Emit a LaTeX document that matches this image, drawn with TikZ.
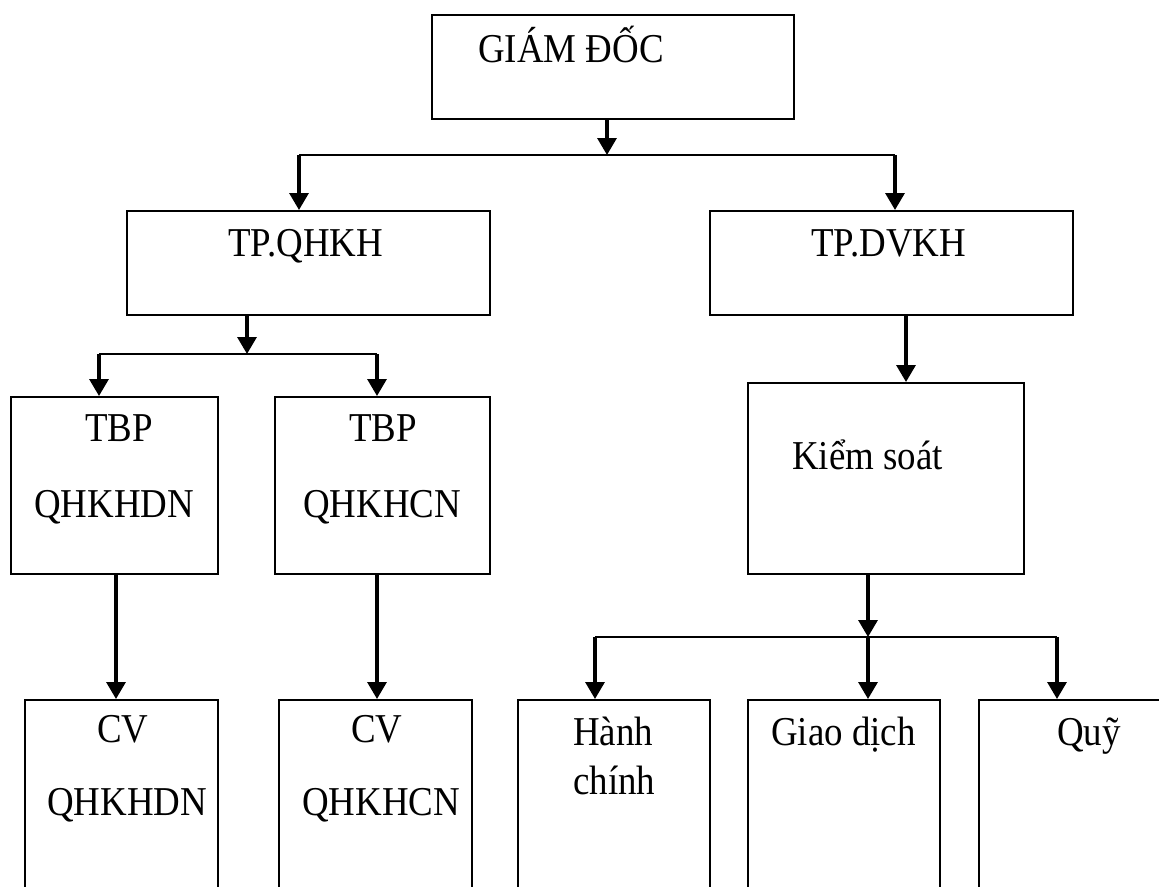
\documentclass[tikz,border=0pt]{standalone}
\usepackage{fontspec}
\setmainfont[FakeStretch=0.9]{Liberation Serif}
\usetikzlibrary{arrows.meta}
\begin{document}
\begin{tikzpicture}[x=1pt,y=-1pt,
  box/.style={draw=black, line width=1.5pt, rectangle, inner sep=0pt, anchor=north west},
  lbl/.style={anchor=base west, inner sep=0pt, font=\fontsize{41}{48}\selectfont},
  arr/.style={line width=3.3pt, -{Triangle[width=19pt,length=17pt]}},
  branch/.style={line width=2pt}]
\useasboundingbox (0,0) rectangle (1159,886);
\clip (0,0) rectangle (1159,886);
% boxes
\node[box, minimum width=362pt, minimum height=104pt] (gd) at (431,14) {};
\node[box, minimum width=363pt, minimum height=104pt] (tp1) at (126,210) {};
\node[box, minimum width=363pt, minimum height=104pt] (tp2) at (709,210) {};
\node[box, minimum width=207pt, minimum height=177pt] (tbp1) at (10,396) {};
\node[box, minimum width=215pt, minimum height=177pt] (tbp2) at (274,396) {};
\node[box, minimum width=276pt, minimum height=191pt] (ks) at (747,382) {};
\node[box, minimum width=193pt, minimum height=220pt] (cv1) at (24,699) {};
\node[box, minimum width=193pt, minimum height=220pt] (cv2) at (278,699) {};
\node[box, minimum width=192pt, minimum height=220pt] (hc) at (517,699) {};
\node[box, minimum width=192pt, minimum height=220pt] (gdch) at (747,699) {};
\node[box, minimum width=192pt, minimum height=220pt] (quy) at (978,699) {};
% labels
\node[lbl] (tgd) at (478,62) {GIÁM ĐỐC};
\node[lbl] (ttp1) at (228,256) {TP.QHKH};
\node[lbl] (ttp2) at (811,256) {TP.DVKH};
\node[lbl] (ttbp1a) at (85,441) {TBP};
\node[lbl] (ttbp1b) at (34,517) {QHKHDN};
\node[lbl] (ttbp2a) at (349,441) {TBP};
\node[lbl] (ttbp2b) at (303,517) {QHKHCN};
\node[lbl] (tks) at (792,469) {Kiểm soát};
\node[lbl] (tcv1a) at (97,742) {CV};
\node[lbl] (tcv1b) at (47,815) {QHKHDN};
\node[lbl] (tcv2a) at (351,742) {CV};
\node[lbl] (tcv2b) at (302,815) {QHKHCN};
\node[lbl] (thca) at (573,745) {Hành};
\node[lbl] (thcb) at (573,794) {chính};
\node[lbl] (tgdch) at (771,745) {Giao dịch};
\node[lbl] (tquy) at (1057,745) {Quỹ};
% junction coordinates
\coordinate (j1) at (607,155);
\coordinate (l1) at (299,155);
\coordinate (r1) at (895,155);
\coordinate (j2) at (247,354);
\coordinate (l2) at (99,354);
\coordinate (r2) at (377,354);
\coordinate (j3) at (868,637);
\coordinate (l3) at (595,637);
\coordinate (r3) at (1057,637);
\coordinate (c1) at (116,0);
\coordinate (c2) at (377,0);
\coordinate (c3) at (906,0);
% connectors
\draw[arr] (gd.south -| j1) -- (j1);
\draw[branch] (l1) -- (r1);
\draw[arr] (l1) -- (l1 |- tp1.north);
\draw[arr] (r1) -- (r1 |- tp2.north);
\draw[arr] (tp1.south -| j2) -- (j2);
\draw[branch] (l2) -- (r2);
\draw[arr] (l2) -- (l2 |- tbp1.north);
\draw[arr] (r2) -- (r2 |- tbp2.north);
\draw[arr] (tbp1.south -| c1) -- (c1 |- cv1.north);
\draw[arr] (tbp2.south -| c2) -- (c2 |- cv2.north);
\draw[arr] (tp2.south -| c3) -- (c3 |- ks.north);
\draw[arr] (ks.south -| j3) -- (j3);
\draw[branch] (l3) -- (r3);
\draw[arr] (l3) -- (l3 |- hc.north);
\draw[arr] (j3) -- (j3 |- gdch.north);
\draw[arr] (r3) -- (r3 |- quy.north);
\end{tikzpicture}
\end{document}
